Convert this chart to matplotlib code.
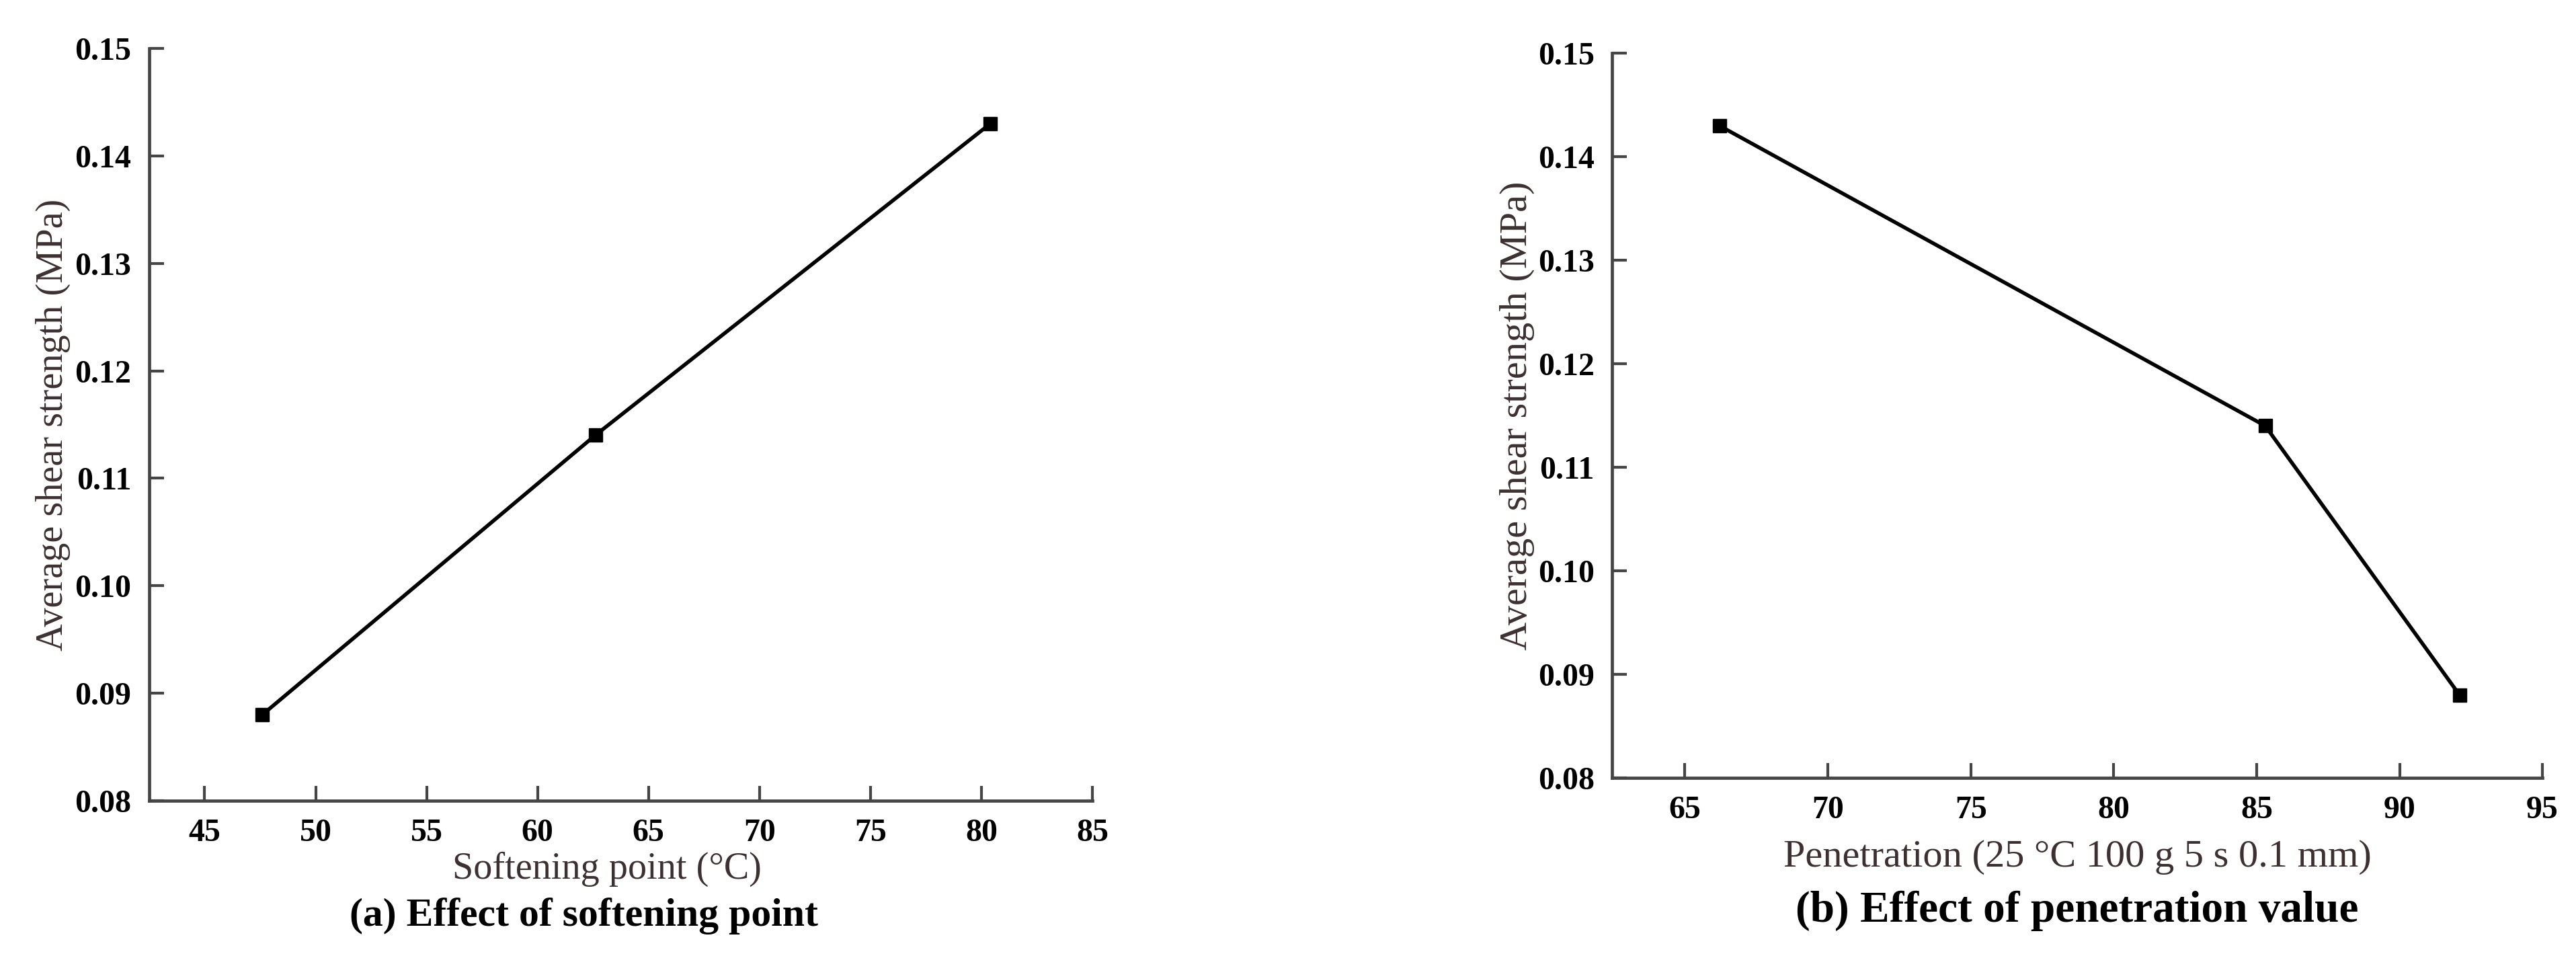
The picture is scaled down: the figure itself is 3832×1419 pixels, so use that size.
import matplotlib
matplotlib.use("Agg")
import matplotlib.pyplot as plt
import matplotlib.transforms as mtransforms

# ---- data -------------------------------------------------------------------
soft_pt = [47.6, 62.6, 80.4]           # softening point (degC)
soft_shear = [0.088, 0.114, 0.143]     # average shear strength (MPa)

pen_val = [66.2, 85.3, 92.1]           # penetration (0.1 mm)
pen_shear = [0.143, 0.114, 0.088]

y_ticks = [0.08, 0.09, 0.10, 0.11, 0.12, 0.13, 0.14, 0.15]
soft_ticks = [45, 50, 55, 60, 65, 70, 75, 80, 85]
pen_ticks = [65, 70, 75, 80, 85, 90, 95]

plt.rcParams["font.family"] = ["Liberation Serif", "DejaVu Serif"]
LABEL_C = "#3d3030"
SPINE_C = "#454545"

fig = plt.figure(figsize=(38.32, 14.19), dpi=100)
ax1 = fig.add_axes([0.0579, 0.1607, 0.3662, 0.7886])
ax2 = fig.add_axes([0.6258, 0.1846, 0.3612, 0.7597])


def style(ax, x, y, xticks, xlim, xlabel, title, lab_fs, tit_fs,
          xlab_x, xlab_y, tit_x, tit_y):
    ax.plot(x, y, "s-", color="black", lw=4, ms=15, mfc="black", mec="black")
    ax.set_xlim(*xlim)
    ax.set_ylim(0.08, 0.15)
    ax.set_xticks(xticks)
    ax.set_yticks(y_ticks)
    ax.set_yticklabels([f"{v:.2f}" for v in y_ticks])
    for s in ("top", "right"):
        ax.spines[s].set_visible(False)
    for s in ("left", "bottom"):
        ax.spines[s].set_color(SPINE_C)
        ax.spines[s].set_linewidth(3.4)
    ax.tick_params(direction="in", length=16, width=3, color=SPINE_C,
                   labelsize=34.5, pad=19)
    for t in ax.get_xticklabels() + ax.get_yticklabels():
        t.set_fontweight("bold")
    ax.set_xlabel(xlabel, fontsize=lab_fs, color=LABEL_C, va="baseline")
    ax.set_ylabel("Average shear strength (MPa)", fontsize=lab_fs, color=LABEL_C)
    tr = mtransforms.blended_transform_factory(ax.transAxes, fig.transFigure)
    ax.xaxis.set_label_coords(xlab_x, xlab_y, transform=tr)
    ax.yaxis.set_label_coords(-0.083, 0.5)
    ax.text(tit_x, tit_y, title, transform=tr, ha="center", va="baseline",
            fontsize=tit_fs, fontweight="bold", color="black")


# label / title baselines in figure fraction (from the reference pixel rows)
style(ax1, soft_pt, soft_shear, soft_ticks, (42.5, 85),
      "Softening point (\u00b0C)", "(a) Effect of softening point",
      40.5, 43, 0.485, 1 - 1307 / 1419, 0.461, 1 - 1377 / 1419)
style(ax2, pen_val, pen_shear, pen_ticks, (62.45, 95),
      "Penetration (25 \u00b0C 100 g 5 s 0.1 mm)", "(b) Effect of penetration value",
      42, 47, 0.5, 1 - 1289 / 1419, 0.5, 1 - 1371 / 1419)

fig.savefig("out.png", dpi=100)
